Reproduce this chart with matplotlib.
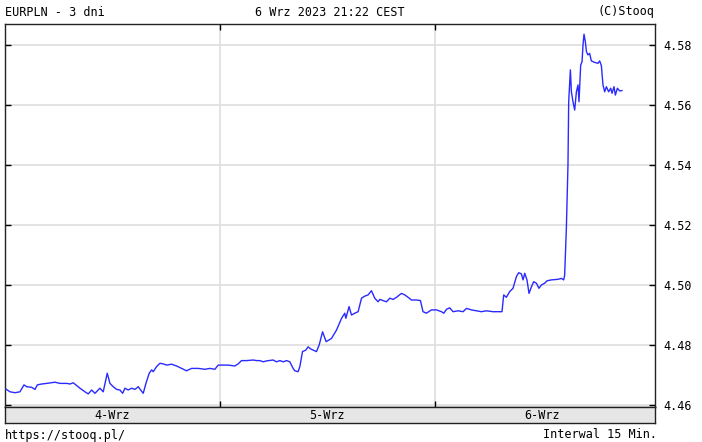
import numpy as np
import matplotlib.pyplot as plt

# godziny od 4 Wrz 00:00, kurs EURPLN (interwal 15 min)
godziny = [0.11, 0.56, 1.12, 1.67, 2.12, 2.42, 2.98, 3.35, 3.61, 4.10, 4.65, 5.58, 6.14, 6.89,
           7.26, 7.62, 8.37, 8.93, 9.30, 9.68, 10.05, 10.60, 10.97, 11.42, 11.72, 12.09, 12.47,
           12.84, 13.14, 13.40, 13.76, 14.14, 14.51, 14.88, 15.15, 15.44, 15.74, 16.11, 16.38,
           16.56, 16.93, 17.30, 17.67, 18.05, 18.61, 19.17, 19.72, 20.28, 20.84, 21.58, 22.33,
           22.88, 23.44, 23.81, 24.19, 24.93, 25.67, 26.04, 26.42, 26.98, 27.72, 28.10, 28.47,
           28.83, 29.21, 29.95, 30.33, 30.70, 31.07, 31.45, 31.81, 32.18, 32.37, 32.74, 32.93,
           33.23, 33.60, 33.86, 34.13, 34.42, 34.79, 35.09, 35.47, 35.87, 36.47, 37.03, 37.59,
           37.95, 38.07, 38.43, 38.70, 39.07, 39.44, 39.82, 40.19, 40.56, 40.93, 41.30, 41.67,
           41.86, 42.23, 42.61, 42.98, 43.35, 43.73, 44.28, 44.65, 45.02, 45.40, 45.96, 46.40,
           46.69, 47.07, 47.63, 48.19, 48.75, 49.01, 49.31, 49.67, 50.04, 50.60, 51.16, 51.54,
           52.10, 52.66, 53.21, 53.77, 54.51, 55.26, 55.51, 55.70, 56.00, 56.37, 56.74, 57.12,
           57.38, 57.68, 57.86, 58.05, 58.30, 58.53, 58.80, 59.05, 59.35, 59.64, 59.91, 60.28,
           60.54, 61.03, 61.77, 62.15, 62.40, 62.51, 62.70, 62.88, 62.96, 63.15, 63.26, 63.44,
           63.63, 63.82, 64.00, 64.11, 64.30, 64.45, 64.56, 64.67, 64.82, 64.94, 65.11, 65.30,
           65.49, 65.86, 66.23, 66.42, 66.61, 66.79, 66.98, 67.17, 67.42, 67.65, 67.80, 68.02,
           68.17, 68.40, 68.65, 68.91]
kurs = [4.4653, 4.4644, 4.4641, 4.4644, 4.4667, 4.4661, 4.4659, 4.4652, 4.4667, 4.4670, 4.4672,
        4.4676, 4.4672, 4.4672, 4.4670, 4.4674, 4.4656, 4.4644, 4.4637, 4.4650, 4.4639, 4.4656,
        4.4644, 4.4706, 4.4672, 4.4661, 4.4652, 4.4650, 4.4639, 4.4656, 4.4650, 4.4656, 4.4652,
        4.4661, 4.4650, 4.4639, 4.4672, 4.4706, 4.4717, 4.4711, 4.4728, 4.4739, 4.4737, 4.4733,
        4.4736, 4.4730, 4.4722, 4.4714, 4.4722, 4.4722, 4.4719, 4.4722, 4.4719, 4.4733, 4.4733,
        4.4733, 4.4730, 4.4737, 4.4748, 4.4748, 4.4750, 4.4748, 4.4748, 4.4744, 4.4747, 4.4750,
        4.4744, 4.4748, 4.4744, 4.4748, 4.4744, 4.4722, 4.4714, 4.4711, 4.4728, 4.4778, 4.4783,
        4.4794, 4.4787, 4.4783, 4.4778, 4.4800, 4.4844, 4.4811, 4.4822, 4.4850, 4.4889, 4.4906,
        4.4889, 4.4928, 4.4900, 4.4906, 4.4911, 4.4956, 4.4963, 4.4967, 4.4981, 4.4956, 4.4944,
        4.4952, 4.4948, 4.4944, 4.4956, 4.4952, 4.4959, 4.4972, 4.4967, 4.4959, 4.4950, 4.4950,
        4.4948, 4.4911, 4.4906, 4.4917, 4.4917, 4.4911, 4.4906, 4.4919, 4.4924, 4.4911, 4.4914,
        4.4911, 4.4922, 4.4917, 4.4914, 4.4911, 4.4914, 4.4911, 4.4911, 4.4911, 4.4967, 4.4959,
        4.4978, 4.4989, 4.5028, 4.5041, 4.5037, 4.5017, 4.5039, 4.5017, 4.4972, 4.4994, 4.5011,
        4.5006, 4.4989, 4.5000, 4.5006, 4.5014, 4.5017, 4.5019, 4.5022, 4.5017, 4.5033, 4.5189,
        4.5400, 4.5611, 4.5717, 4.5644, 4.5611, 4.5583, 4.5644, 4.5667, 4.5611, 4.5733, 4.5744,
        4.5800, 4.5836, 4.5811, 4.5778, 4.5767, 4.5772, 4.5747, 4.5742, 4.5739, 4.5747, 4.5731,
        4.5667, 4.5644, 4.5661, 4.5644, 4.5656, 4.5639, 4.5661, 4.5633, 4.5656, 4.5647, 4.5648]

dni = ['4-Wrz', '5-Wrz', '6-Wrz']
granice_dni = [24, 48]
poziomy = [4.46, 4.48, 4.50, 4.52, 4.54, 4.56, 4.58]

W, H = 702, 442
font = 'DejaVu Sans Mono'
fs = 8.5

fig = plt.figure(figsize=(W / 100, H / 100), dpi=100)
x0, x1, ytop, ybot, ystrip = 5, 655, 24, 407, 423
xmax = 72.6

ax = fig.add_axes([x0 / W, 1 - ybot / H, (x1 - x0) / W, (ybot - ytop) / H])
ax.set_xlim(0, xmax)
ax.set_ylim(4.46 - 2 / 3000, 4.58 + 21 / 3000)
for g in granice_dni:
    ax.axvline(g, color='#e0e0e0', lw=1.3, zorder=1)
for p in poziomy:
    ax.axhline(p, color='#e0e0e0', lw=1.3, zorder=1)
ax.plot(godziny, kurs, color='#2a2aff', lw=1.0, zorder=3)

ax.set_yticks(poziomy)
ax.set_yticklabels([f'{p:.2f}' for p in poziomy], fontfamily=font, fontsize=fs)
ax.tick_params(axis='y', direction='in', length=4, width=1, pad=6,
               left=True, right=True, labelleft=False, labelright=True)
ax.set_xticks(granice_dni)
ax.set_xticklabels([])
ax.tick_params(axis='x', direction='in', length=4, width=1, top=True, bottom=True)
for s in ax.spines.values():
    s.set_linewidth(1.0)
    s.set_color('#222222')

# pasek z datami
ax2 = fig.add_axes([x0 / W, 1 - ystrip / H, (x1 - x0) / W, (ystrip - ybot) / H])
ax2.set_facecolor('#e6e6e6')
ax2.set_xlim(0, xmax)
ax2.set_ylim(0, 1)
ax2.set_xticks(granice_dni)
ax2.set_xticklabels([])
ax2.set_yticks([])
ax2.tick_params(axis='x', direction='in', length=3, width=1, bottom=False)
for s in ax2.spines.values():
    s.set_linewidth(1.0)
    s.set_color('#222222')
for i, d in enumerate(dni):
    ax2.text(12 + 24 * i, 0.45, d, ha='center', va='center', fontfamily=font, fontsize=fs)

fig.text(x0 / W, 1 - 12 / H, 'EURPLN - 3 dni', ha='left', va='center', fontfamily=font, fontsize=fs)
fig.text(330 / W, 1 - 12 / H, '6 Wrz 2023 21:22 CEST', ha='center', va='center', fontfamily=font, fontsize=fs)
fig.text(x1 / W, 1 - 12 / H, '(C)Stooq', ha='right', va='center', fontfamily=font, fontsize=fs)
fig.text(x0 / W, 1 - 435 / H, 'https://stooq.pl/', ha='left', va='center', fontfamily=font, fontsize=fs)
fig.text(657 / W, 1 - 435 / H, 'Interwal 15 Min.', ha='right', va='center', fontfamily=font, fontsize=fs)

fig.savefig('out.png', dpi=100)
